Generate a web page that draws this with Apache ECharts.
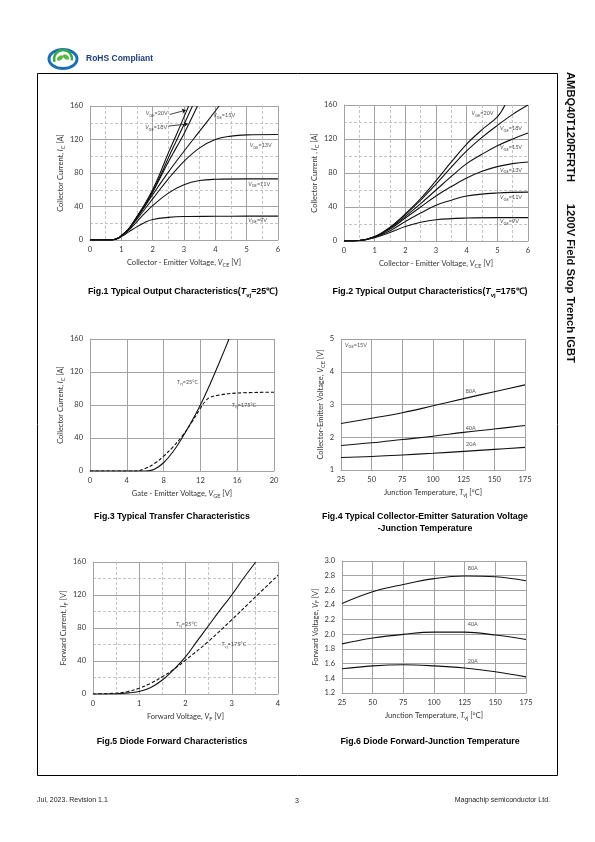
<!DOCTYPE html>
<html><head><meta charset="utf-8">
<script src="https://cdn.jsdelivr.net/npm/echarts@6/dist/echarts.min.js"></script>
<style>html,body{margin:0;padding:0;background:#fff}#c{width:595px;height:842px}</style>
</head><body><div id="c"></div>
<script>
// ---------- DATA ----------
// Fig.1 Output characteristics, Tvj=25C  [VCE (V), IC (A)]
const f1_vge20 = [[0,0],[0.5,0],[0.7,0.2],[0.85,1.5],[1,5],[1.25,14],[1.5,28],[1.75,43],[2,60],[2.25,81],[2.5,104],[2.75,125],[3,147],[3.15,160]];
const f1_vge18 = [[0,0],[0.5,0],[0.7,0.2],[0.85,1.5],[1,5],[1.25,14],[1.5,28],[1.75,42],[2,58],[2.25,77],[2.5,98],[2.75,118],[3,138],[3.27,160]];
const f1_vge17 = [[0,0],[0.5,0],[0.7,0.2],[0.85,1.5],[1,5],[1.25,13.5],[1.5,27],[1.75,41],[2,57],[2.25,75],[2.5,93],[2.75,110],[3,127],[3.43,160]];
const f1_vge15 = [[0,0],[0.5,0],[0.7,0.2],[0.85,1.5],[1,5],[1.25,14],[1.5,27],[1.75,40],[2,54],[2.5,81],[3,106],[3.5,130],[4,154],[4.12,160]];
const f1_vge13 = [[0,0],[0.5,0],[0.7,0.2],[0.85,1.5],[1,5],[1.25,14],[1.5,25],[1.75,37],[2,49],[2.5,73],[3,94],[3.5,110],[4,120],[4.5,124],[5,125.5],[6,126]];
const f1_vge11 = [[0,0],[0.5,0],[0.7,0.2],[0.85,1.3],[1,4.5],[1.25,12],[1.5,22],[1.75,32],[2,41],[2.5,56],[3,66],[3.5,71],[4,72.5],[5,73],[6,73]];
const f1_vge9  = [[0,0],[0.5,0],[0.7,0.2],[0.85,1.2],[1,4],[1.25,10],[1.5,16],[1.75,21],[2,24.5],[2.5,27],[3,28],[4,28.3],[5,28.5],[6,28.5]];
// Fig.2 Output characteristics, Tvj=175C
const f2_vge20 = [[0,0],[0.5,0.6],[1,5],[1.5,16],[2,32],[2.5,50],[3,71],[3.5,93],[4,114],[4.5,131],[5,146],[5.25,160]];
const f2_vge18 = [[0,0],[0.5,0.6],[1,5],[1.5,16],[2,31],[2.5,48],[3,67],[3.5,87],[4,106],[4.5,122],[5,136],[5.5,149],[6,160]];
const f2_vge15 = [[0,0],[0.5,0.6],[1,5],[1.5,15],[2,29],[2.5,44],[3,60],[3.5,76],[4,91],[4.5,102],[5,112],[5.5,120],[6,127]];
const f2_vge13 = [[0,0],[0.5,0.6],[1,5],[1.5,14],[2,27],[2.5,40],[3,53],[3.5,64],[4,74],[4.5,82],[5,87.5],[5.5,91],[6,93]];
const f2_vge11 = [[0,0],[0.5,0.6],[1,4.5],[1.5,12],[2,23],[2.5,33],[3,42],[3.5,48],[4,53],[5,56.5],[6,57.5]];
const f2_vge9  = [[0,0],[0.5,0.6],[1,4],[1.5,10],[2,17],[2.5,22],[3,25],[4,27],[5,27.5],[6,27.5]];
// Fig.3 Transfer characteristics [VGE (V), IC (A)]
const f3_t25  = [[0,0],[6,0],[6.5,0.5],[7,2],[8,10],[9,23],[10,40],[11,59],[12,80],[13,104],[14,130],[15,157],[15.1,160]];
const f3_t175 = [[0,0],[5,0],[6,3],[7,9],[8,18],[9,29],[10,42],[11,58],[12,76],[12.5,84],[13,89],[14,92],[16,94.5],[20,95.5]];
// Fig.4 VCEsat vs Tvj [Tvj (C), VCE (V)]
const tempAxis = [25,50,75,100,125,150,175];
const f4_80a = [2.42,2.58,2.75,2.96,3.18,3.39,3.60];
const f4_40a = [1.75,1.83,1.93,2.03,2.15,2.25,2.36];
const f4_20a = [1.38,1.41,1.46,1.51,1.57,1.63,1.69];
// Fig.5 Diode forward [VF (V), IF (A)]
const f5_t25  = [[0,0],[0.5,0.3],[0.8,1.5],[1,3],[1.25,8],[1.5,17],[1.75,30],[2,45],[2.25,64],[2.5,83],[2.75,102],[3,120],[3.25,140],[3.52,160]];
const f5_t175 = [[0,0],[0.5,1],[0.75,3],[1,7],[1.25,13],[1.5,21],[1.75,30],[2,41],[2.5,64],[3,90],[3.5,117],[4,144]];
// Fig.6 Diode VF vs Tvj
const f6_80a = [2.42,2.58,2.68,2.76,2.795,2.785,2.73];
const f6_40a = [1.87,1.95,2.00,2.03,2.03,1.99,1.93];
const f6_20a = [1.53,1.57,1.585,1.57,1.54,1.49,1.42];

// ---------- STYLE ----------
const AXF = 'Lato';
const CAPF = '"Liberation Sans", Arial, sans-serif';
const MAJ = '#a3a3a3', MIN = '#c4c4c4';
const nameRich = {
  a:{fontFamily:AXF,fontSize:7.5,color:'#333',lineHeight:11},
  i:{fontFamily:AXF,fontSize:7.5,fontStyle:'italic',color:'#333',lineHeight:11},
  s:{fontFamily:AXF,fontSize:5.5,color:'#333',lineHeight:7,verticalAlign:'bottom'}
};
const labRich = {
  a:{fontFamily:AXF,fontSize:5.5,color:'#222',lineHeight:8},
  i:{fontFamily:AXF,fontSize:5.5,fontStyle:'italic',color:'#222',lineHeight:8},
  s:{fontFamily:AXF,fontSize:4,color:'#222',lineHeight:5,verticalAlign:'bottom'}
};

const grids = [
  {left:90, top:106, width:188, height:134},
  {left:344,top:105, width:184, height:136},
  {left:90, top:339, width:184, height:132},
  {left:341,top:339, width:184, height:131},
  {left:93, top:562, width:185, height:132},
  {left:342,top:561, width:184, height:132}
];

function axis(gi, min, max, interval, name, gap, minor, fmt, isY){
  return {
    gridIndex:gi, type:'value', min, max, interval,
    name, nameLocation:'middle', nameGap:gap,
    nameTextStyle:{rich:nameRich},
    axisLine:{show:true,lineStyle:{color:MAJ,width:1}},
    axisTick:{show:false},
    axisLabel:{fontFamily:AXF,fontSize:7.5,color:'#333',margin:isY?7:6,formatter:fmt},
    splitLine:{show:true,lineStyle:{color:MAJ,width:1}},
    minorTick:{show:false,splitNumber:2},
    minorSplitLine:{show:!!minor,lineStyle:{color:MIN,width:1,type:[3,2]}}
  };
}
const xAxes = [
  axis(0,0,6,1,'{a|Collector - Emitter Voltage, }{i|V}{s|CE}{a| [V]}',17,true),
  axis(1,0,6,1,'{a|Collector - Emitter Voltage, }{i|V}{s|CE}{a| [V]}',17,true),
  axis(2,0,20,4,'{a|Gate - Emitter Voltage, }{i|V}{s|GE}{a| [V]}',17,false),
  axis(3,25,175,25,'{a|Junction Temperature, }{i|T}{s|vj}{a| [°C]}',17,false),
  axis(4,0,4,1,'{a|Forward Voltage, }{i|V}{s|F}{a| [V]}',17,true),
  axis(5,25,175,25,'{a|Junction Temperature, }{i|T}{s|vj}{a| [°C]}',17,false)
];
const yAxes = [
  axis(0,0,160,40,'{a|Collector Current, }{i|I}{s|C}{a| [A]}',19,true,null,true),
  axis(1,0,160,40,'{a|Collector Current , }{i|I}{s|C}{a| [A]}',19,true,null,true),
  axis(2,0,160,40,'{a|Collector Current, }{i|I}{s|C}{a| [A]}',19,false,null,true),
  axis(3,1,5,1,'{a|Collector-Emitter Voltage, }{i|V}{s|CE}{a| [V]}',15,false,null,true),
  axis(4,0,160,40,'{a|Forward Current, }{i|I}{s|F}{a| [V]}',19,true,null,true),
  axis(5,1.2,3.0,0.2,'{a|Forward Voltage, }{i|V}{s|F}{a| [V]}',20,false,v=>v.toFixed(1),true)
];

function line(gi, data, dashed){
  return {type:'line', xAxisIndex:gi, yAxisIndex:gi, data, showSymbol:false, symbol:'none',
    smooth:0.4, clip:true, silent:true,
    lineStyle:{color:'#111', width:1.1, type: dashed?[3.5,2]:'solid'}};
}
const zipT = arr => tempAxis.map((t,k)=>[t,arr[k]]);

// annotation labels [x, y, text] per grid (data units)
const ann = [
  [[1.78,151,'{i|V}{s|GE}{a|=20V}'],[1.76,134.6,'{i|V}{s|GE}{a|=18V}'],[3.93,149,'{i|V}{s|GE}{a|=15V}'],[5.1,113,'{i|V}{s|GE}{a|=13V}'],[5.05,67,'{i|V}{s|GE}{a|=11V}'],[5.05,24,'{i|V}{s|GE}{a|=9V}']],
  [[4.16,150,'{i|V}{s|GE}{a|=20V}'],[5.09,132.6,'{i|V}{s|GE}{a|=18V}'],[5.09,110,'{i|V}{s|GE}{a|=15V}'],[5.09,83.5,'{i|V}{s|GE}{a|=13V}'],[5.09,51,'{i|V}{s|GE}{a|=11V}'],[5.09,22.7,'{i|V}{s|GE}{a|=9V}']],
  [[9.42,108,'{i|T}{s|vj}{a|=25°C}'],[15.4,80,'{i|T}{s|vj}{a|=175°C}']],
  [[126.6,3.41,'{a|80A}'],[126.6,2.27,'{a|40A}'],[127,1.78,'{a|20A}'],[28.3,4.82,'{i|V}{s|GE}{a|=15V}']],
  [[1.79,85,'{i|T}{s|vj}{a|=25°C}'],[2.78,60,'{i|T}{s|vj}{a|=175°C}']],
  [[127.5,2.90,'{a|80A}'],[127.5,2.137,'{a|40A}'],[127.5,1.627,'{a|20A}']]
];
const arrows1 = [ {coords:[[2.55,150],[3.06,155]]}, {coords:[[2.5,136],[3.12,138.5]]} ];

const series = [
  line(0,f1_vge20),line(0,f1_vge18),line(0,f1_vge17),line(0,f1_vge15),line(0,f1_vge13),line(0,f1_vge11),line(0,f1_vge9),
  line(1,f2_vge20),line(1,f2_vge18),line(1,f2_vge15),line(1,f2_vge13),line(1,f2_vge11),line(1,f2_vge9),
  line(2,f3_t25),line(2,f3_t175,true),
  line(3,zipT(f4_80a)),line(3,zipT(f4_40a)),line(3,zipT(f4_20a)),
  line(4,f5_t25),line(4,f5_t175,true),
  line(5,zipT(f6_80a)),line(5,zipT(f6_40a)),line(5,zipT(f6_20a)),
  {type:'lines', coordinateSystem:'cartesian2d', xAxisIndex:0, yAxisIndex:0, silent:true,
   symbol:['none','arrow'], symbolSize:4, lineStyle:{color:'#111',width:0.8,opacity:1}, data:arrows1}
];
ann.forEach((list,gi)=>{
  series.push({type:'scatter', xAxisIndex:gi, yAxisIndex:gi, symbolSize:0, silent:true,
    data:list.map(d=>({value:[d[0],d[1]], name:d[2]})),
    label:{show:true, position:'right', distance:0, formatter:p=>p.name, rich:labRich, align:'left', verticalAlign:'middle'}});
});

// captions / page furniture
const CS = 8.8;
function cap(x,y,parts){
  return {type:'text', x, y, style:{text:parts, align:'center', verticalAlign:'middle',
    rich:{b:{fontFamily:CAPF,fontWeight:'bold',fontSize:CS,color:'#111',lineHeight:12},
          bi:{fontFamily:CAPF,fontWeight:'bold',fontStyle:'italic',fontSize:CS,color:'#111',lineHeight:12},
          bs:{fontFamily:CAPF,fontWeight:'bold',fontSize:6,color:'#111',lineHeight:8,verticalAlign:'bottom'}}}};
}
const graphic = [
  {type:'rect', shape:{x:37.5,y:73.5,width:520,height:702}, style:{fill:'none',stroke:'#000',lineWidth:1}},
  // logo
  {type:'ellipse', shape:{cx:63,cy:59,rx:14,ry:9.5}, style:{fill:'none',stroke:'#1d6fb5',lineWidth:3}},
  {type:'arc', shape:{cx:63,cy:59,r:9,startAngle:Math.PI*0.9,endAngle:Math.PI*2.05}, style:{fill:'none',stroke:'#37a84a',lineWidth:2.5}},
  {type:'ellipse', shape:{cx:60,cy:58,rx:3.5,ry:2.2}, rotation:0.6, originX:60, originY:58, style:{fill:'#5bb848'}},
  {type:'ellipse', shape:{cx:66,cy:57,rx:3.5,ry:2.2}, rotation:-0.6, originX:66, originY:57, style:{fill:'#5bb848'}},
  {type:'text', x:86, y:59, style:{text:'RoHS Compliant', fontFamily:CAPF, fontWeight:'bold', fontSize:8.5, fill:'#1f3d7a', verticalAlign:'middle'}},
  {type:'text', x:570, y:72, rotation:-Math.PI/2, style:{text:'AMBQ40T120RFRTH       1200V Field Stop Trench IGBT', fontFamily:CAPF, fontWeight:'bold', fontSize:11.2, fill:'#111', align:'left', verticalAlign:'middle'}},
  {type:'text', x:37, y:800, style:{text:'Jul, 2023. Revision 1.1', fontFamily:CAPF, fontSize:7, fill:'#222', verticalAlign:'middle'}},
  {type:'text', x:297, y:801, style:{text:'3', fontFamily:CAPF, fontSize:7, fill:'#222', align:'center', verticalAlign:'middle'}},
  {type:'text', x:550, y:800, style:{text:'Magnachip semiconductor Ltd.', fontFamily:CAPF, fontSize:7, fill:'#222', align:'right', verticalAlign:'middle'}},
  cap(183,292,'{b|Fig.1 Typical Output Characteristics(}{bi|T}{bs|vj}{b|=25℃)}'),
  cap(430,292,'{b|Fig.2 Typical Output Characteristics(}{bi|T}{bs|vj}{b|=175℃)}'),
  cap(172,517,'{b|Fig.3 Typical Transfer Characteristics}'),
  cap(425,517,'{b|Fig.4 Typical Collector-Emitter Saturation Voltage}'),
  cap(425,529,'{b|-Junction Temperature}'),
  cap(172,742,'{b|Fig.5 Diode Forward Characteristics}'),
  cap(430,742,'{b|Fig.6 Diode Forward-Junction Temperature}')
];

const chart = echarts.init(document.getElementById('c'), null, {renderer:'canvas'});
chart.setOption({animation:false, backgroundColor:'#fff', grid:grids, xAxis:xAxes, yAxis:yAxes, series, graphic});
</script></body></html>
